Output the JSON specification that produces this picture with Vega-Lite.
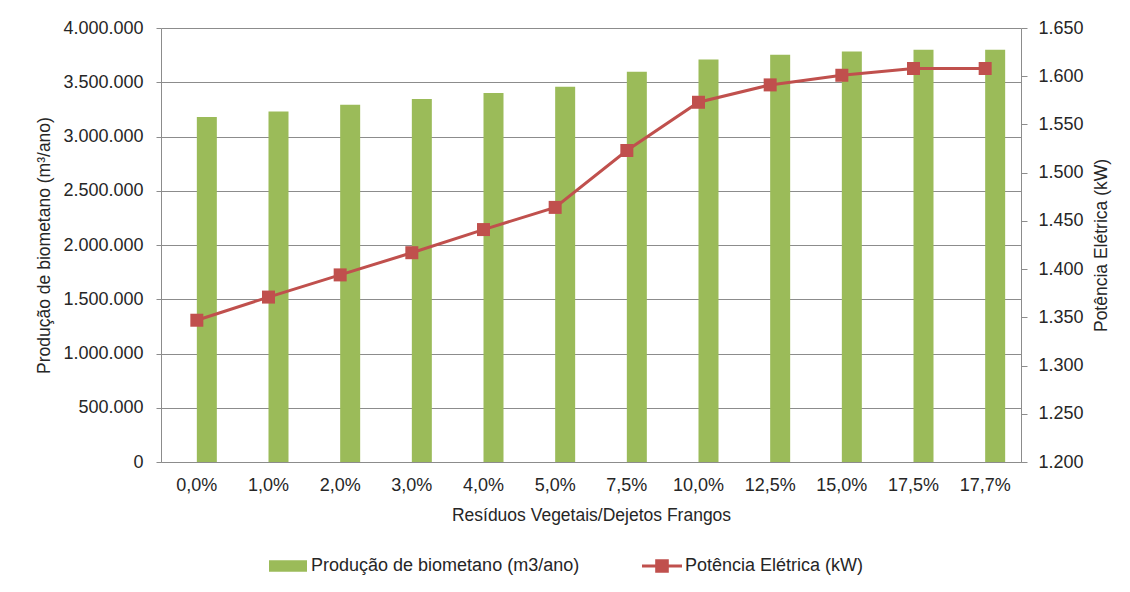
{
  "$schema": "https://vega.github.io/schema/vega-lite/v6.json",
  "width": 860,
  "height": 434,
  "autosize": {"type": "none"},
  "padding": {"left": 161, "top": 28, "right": 109, "bottom": 130},
  "background": "white",
  "config": {
    "locale": {"number": {"decimal": ",", "thousands": ".", "grouping": [3], "currency": ["R$", ""]}},
    "font": "Liberation Sans",
    "view": {"stroke": null},
    "axis": {
      "labelFont": "Liberation Sans",
      "titleFont": "Liberation Sans",
      "labelFontSize": 18,
      "titleFontSize": 17.5,
      "titleFontWeight": "normal",
      "labelColor": "#262626",
      "titleColor": "#262626",
      "domainColor": "#8c8c8c",
      "tickColor": "#8c8c8c",
      "gridColor": "#8c8c8c",
      "gridOpacity": 1,
      "domainWidth": 1,
      "tickWidth": 1,
      "gridWidth": 1
    }
  },
  "data": {
    "values": [
      {"mistura": "0,0%", "biometano": 3179000, "potencia": 1347},
      {"mistura": "1,0%", "biometano": 3231000, "potencia": 1371},
      {"mistura": "2,0%", "biometano": 3293000, "potencia": 1394},
      {"mistura": "3,0%", "biometano": 3345000, "potencia": 1417},
      {"mistura": "4,0%", "biometano": 3400000, "potencia": 1441},
      {"mistura": "5,0%", "biometano": 3459000, "potencia": 1464},
      {"mistura": "7,5%", "biometano": 3597000, "potencia": 1523},
      {"mistura": "10,0%", "biometano": 3709000, "potencia": 1573},
      {"mistura": "12,5%", "biometano": 3754000, "potencia": 1591},
      {"mistura": "15,0%", "biometano": 3784000, "potencia": 1601},
      {"mistura": "17,5%", "biometano": 3800000, "potencia": 1608},
      {"mistura": "17,7%", "biometano": 3800000, "potencia": 1608}
    ]
  },
  "layer": [
    {
      "mark": {"type": "bar", "width": 20, "xOffset": 10},
      "encoding": {
        "x": {
          "field": "mistura",
          "type": "nominal",
          "sort": null,
          "scale": {"paddingInner": 0, "paddingOuter": 0},
          "axis": {
            "title": "Resíduos Vegetais/Dejetos Frangos",
            "labelAngle": 0,
            "ticks": false,
            "labelPadding": 14,
            "titlePadding": 12,
            "grid": false
          }
        },
        "y": {
          "field": "biometano",
          "type": "quantitative",
          "scale": {"domain": [0, 4000000], "nice": false},
          "axis": {
            "title": "Produção de biometano (m³/ano)",
            "values": [0, 500000, 1000000, 1500000, 2000000, 2500000, 3000000, 3500000, 4000000],
            "format": ",d",
            "grid": true,
            "tickSize": 5,
            "labelPadding": 13,
            "titleX": -117,
            "titleY": 217,
            "titleAlign": "center",
            "titleBaseline": "middle"
          }
        },
        "color": {
          "datum": "Produção de biometano (m3/ano)",
          "scale": {
            "domain": ["Produção de biometano (m3/ano)", "Potência Elétrica (kW)"],
            "range": ["#9BBB59", "#C0504D"]
          },
          "legend": {
            "orient": "none",
            "legendX": 107,
            "legendY": 518,
            "direction": "horizontal",
            "title": null,
            "padding": 0,
            "labelFont": "Liberation Sans",
            "labelFontSize": 18,
            "labelColor": "#262626",
            "labelLimit": 0,
            "symbolSize": 1600,
            "labelOffset": 3,
            "columnPadding": 62,
            "encode": {
              "symbols": {
                "update": {
                  "shape": {"signal": "datum.value === 'Potência Elétrica (kW)' ? 'M-1,-0.075H1V0.075H-1Z M-0.34,-0.34H0.34V0.34H-0.34Z' : 'M-0.95,-0.29H0.95V0.29H-0.95Z'"},
                  "fill": {"signal": "datum.value === 'Potência Elétrica (kW)' ? '#C0504D' : '#9BBB59'"},
                  "stroke": {"value": "transparent"},
                  "strokeWidth": {"value": 0},
                  "opacity": {"value": 1},
                  "fillOpacity": {"value": 1}
                }
              }
            }
          }
        }
      }
    },
    {
      "encoding": {
        "x": {"field": "mistura", "type": "nominal", "sort": null},
        "y": {
          "field": "potencia",
          "type": "quantitative",
          "scale": {"domain": [1200, 1650], "nice": false, "zero": false},
          "axis": {
            "orient": "right",
            "title": "Potência Elétrica (kW)",
            "titleAngle": 270,
            "titleX": 80,
            "titleY": 217,
            "titleAlign": "center",
            "titleBaseline": "middle",
            "values": [1200, 1250, 1300, 1350, 1400, 1450, 1500, 1550, 1600, 1650],
            "format": ",d",
            "grid": false,
            "tickSize": 6,
            "labelPadding": 11
          }
        },
        "color": {"datum": "Potência Elétrica (kW)"}
      },
      "layer": [
        {"mark": {"type": "line", "strokeWidth": 3}},
        {"mark": {"type": "point", "shape": "square", "filled": true, "size": 169, "opacity": 1}}
      ]
    }
  ],
  "resolve": {"scale": {"y": "independent"}}
}
